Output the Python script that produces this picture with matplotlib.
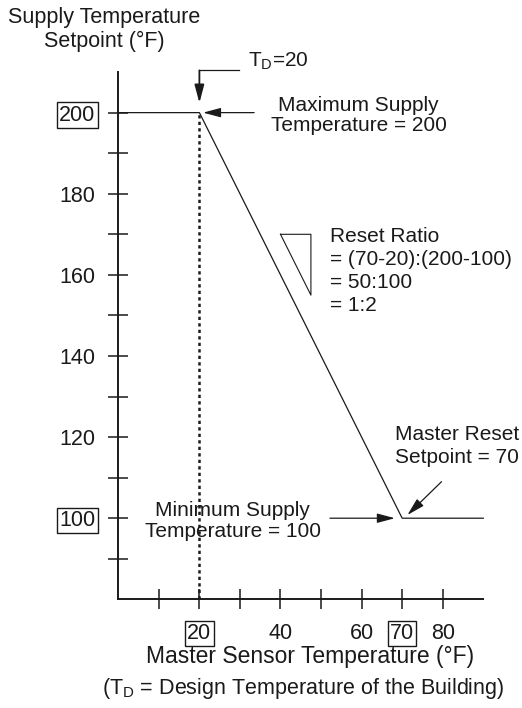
import matplotlib
matplotlib.use("Agg")
import matplotlib.pyplot as plt

plt.rcParams['font.family'] = ['Liberation Sans', 'DejaVu Sans']
plt.rcParams['mathtext.fontset'] = 'custom'
plt.rcParams['mathtext.rm'] = 'Liberation Sans'
plt.rcParams['mathtext.it'] = 'Liberation Sans:italic'

# reset curve: master sensor temp (F) vs supply setpoint (F)
sensor_temp = [0, 20, 70, 90]
supply_setpoint = [200, 200, 100, 100]

design_temp = 20
reset_setpoint = 70
max_supply = 200
min_supply = 100

x_ticks = [10, 20, 30, 40, 50, 60, 70, 80]
x_labels = ['', '20', '', '40', '', '60', '70', '80']
y_ticks = [90, 100, 110, 120, 130, 140, 150, 160, 170, 180, 190, 200]
y_labels = ['', '100', '', '120', '', '140', '', '160', '', '180', '', '200']
boxed = ['20', '70', '100', '200']

# reset ratio triangle
tri_x = [40, 47.5, 47.5, 40]
tri_y = [170, 170, 155, 170]

fs = 15.5
fs_note = 15
ink = '#1a1a1a'

fig = plt.figure(figsize=(5.22, 7.08), dpi=100)
ax = fig.add_axes([0.2266, 0.1535, 0.6992, 0.7447])
ax.set_xlim(0, 90)
ax.set_ylim(80, 210)
for s in ['top', 'right']:
    ax.spines[s].set_visible(False)
for s in ['left', 'bottom']:
    ax.spines[s].set_linewidth(1.4)
    ax.spines[s].set_color(ink)

ax.set_xticks(x_ticks)
ax.set_xticklabels(x_labels)
ax.set_yticks(y_ticks)
ax.set_yticklabels(y_labels)
ax.tick_params(axis='both', direction='inout', length=15, width=1.1,
               color=ink, labelsize=fs, labelcolor=ink)
ax.tick_params(axis='x', pad=9.5)
ax.tick_params(axis='y', pad=9)
for lab in ax.get_xticklabels() + ax.get_yticklabels():
    if lab.get_text() in boxed:
        lab.set_bbox(dict(boxstyle='square,pad=0.1', fc='white', ec=ink, lw=1.0))

# main curve
ax.plot(sensor_temp, supply_setpoint, color=ink, lw=0.9, clip_on=False)
# design temperature dotted line
ax.plot([design_temp, design_temp], [80, max_supply], color=ink, lw=1.8,
        linestyle=(0, (1.3, 1.3)))
# triangle
ax.plot(tri_x, tri_y, color=ink, lw=0.8)

arrow = dict(arrowstyle='-|>,head_length=0.6,head_width=0.16', mutation_scale=18,
             color=ink, lw=0.9, shrinkA=0, shrinkB=0)

# T_D = 20 bracket arrow
ax.plot([29.8, design_temp], [210.4, 210.4], color=ink, lw=0.9, clip_on=False)
ax.annotate('', xy=(design_temp, 202.4), xytext=(design_temp, 210.4),
            arrowprops=dict(arrow, lw=1.3), annotation_clip=False)
ax.text(32.0, 211.4, r'T$_\mathrm{D}$=20', fontsize=fs_note, color=ink,
        ha='left', va='baseline', clip_on=False)

# maximum supply
ax.annotate('', xy=(20.9, max_supply), xytext=(33.5, max_supply), arrowprops=arrow)
ax.text(59.3, 199.3, 'Maximum Supply\nTemperature = 200', fontsize=fs_note, color=ink,
        ha='center', va='center', linespacing=1.12)

# reset ratio
ax.text(52.2, 160.9, 'Reset Ratio\n= (70-20):(200-100)\n= 50:100\n= 1:2',
        fontsize=fs_note, color=ink, ha='left', va='center', linespacing=1.26)

# master reset setpoint
ax.annotate('', xy=(71.3, 100.8), xytext=(79.7, 109.0), arrowprops=arrow)
ax.text(68.3, 117.7, 'Master Reset\nSetpoint = 70', fontsize=fs_note, color=ink,
        ha='left', va='center', linespacing=1.27, clip_on=False)

# minimum supply
ax.annotate('', xy=(68.2, min_supply), xytext=(52.2, min_supply), arrowprops=arrow)
ax.text(28.2, 99.2, 'Minimum Supply\nTemperature = 100', fontsize=fs_note, color=ink,
        ha='center', va='center', linespacing=1.13)

# axis titles
ax.text(-3.5, 220.4, 'Supply Temperature\nSetpoint (\u00b0F)', fontsize=fs, color=ink,
        ha='center', va='center', linespacing=1.17, clip_on=False)
ax.text(47.3, 65.8, 'Master Sensor Temperature (\u00b0F)', fontsize=fs + 1, color=ink,
        ha='center', va='center', clip_on=False)
ax.text(45.6, 58.0, r'(T$_\mathrm{D}$ = Design Temperature of the Building)',
        fontsize=fs, color=ink, ha='center', va='center', clip_on=False)

fig.savefig('out.png', dpi=100)
